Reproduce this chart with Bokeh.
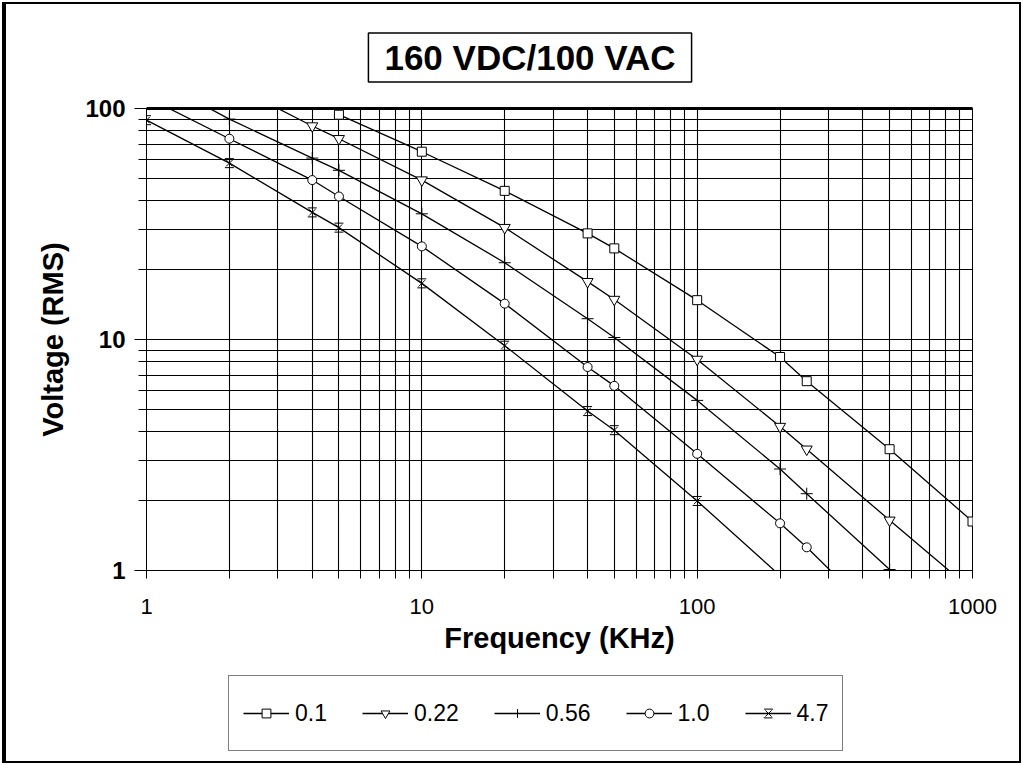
from bokeh.plotting import figure
from bokeh.layouts import column
from bokeh.models import (FixedTicker, BasicTickFormatter, Legend, LegendItem,
                          Label, LogAxis, InlineStyleSheet)
from bokeh.embed import file_html
from bokeh.resources import INLINE

# ---- data (frequency in KHz, voltage RMS) ----
f_01 = [5, 10, 20, 40, 50, 100, 200, 250, 500, 1000]
v_01 = [94, 65, 44, 28.8, 24.8, 14.8, 8.4, 6.6, 3.35, 1.63]

f_022 = [2, 4, 5, 10, 20, 40, 50, 100, 200, 250, 500, 1000]
v_022 = [128, 84, 74, 49, 30.5, 17.8, 14.9, 8.2, 4.2, 3.35, 1.65, 0.82]

f_056 = [1, 2, 4, 5, 10, 20, 40, 50, 100, 200, 250, 500]
v_056 = [140, 90, 61, 54, 35, 21.5, 12.3, 10.2, 5.45, 2.75, 2.15, 1.01]

f_10 = [1, 2, 4, 5, 10, 20, 40, 50, 100, 200, 250, 500]
v_10 = [112, 74, 49, 41.6, 25.3, 14.3, 7.6, 6.3, 3.2, 1.6, 1.26, 0.56]

f_47 = [1, 2, 4, 5, 10, 20, 40, 50, 100, 200]
v_47 = [89, 58, 35.5, 30.5, 17.5, 9.4, 4.9, 4.05, 2.0, 0.95]

series_labels = ["0.1", "0.22", "0.56", "1.0", "4.7"]
x_major = [1, 10, 100, 1000]
x_minor = [2, 3, 4, 5, 6, 7, 8, 9, 20, 30, 40, 50, 60, 70, 80, 90,
           200, 300, 400, 500, 600, 700, 800, 900]
y_major = [1, 10, 100]
y_minor = [2, 3, 4, 5, 6, 7, 8, 9, 20, 30, 40, 50, 60, 70, 80, 90]
title_text = "160 VDC/100 VAC"

FONT = "Liberation Sans"
LW = 1.3

frame_css = InlineStyleSheet(css="""
:host { position: relative; }
:host::after {
  content: "";
  position: absolute;
  left: 2px; top: 2px; right: 2px; bottom: 2px;
  border: 2px solid black;
  border-left-width: 4px;
  pointer-events: none;
  z-index: 1000;
}
""")

# ---------------- title strip ----------------
p0 = figure(width=1023, height=90, x_axis_type=None, y_axis_type=None,
            x_range=(0, 826), y_range=(0, 90), output_backend="svg",
            toolbar_location=None, min_border=0, title=None)
p0.outline_line_color = None
p0.background_fill_color = "white"
p0.border_fill_color = "white"
p0.xgrid.visible = False
p0.ygrid.visible = False
p0.add_layout(Label(x=383.5, y=33, text=title_text,
                    text_font=FONT, text_font_style="bold",
                    text_font_size="35px", text_color="black",
                    text_align="center", text_baseline="middle",
                    background_fill_color="white", background_fill_alpha=1,
                    border_line_color="black", border_line_width=1.5,
                    padding=(16, 16, 5, 5)))

# ---------------- main chart ----------------
p = figure(width=1023, height=580, x_axis_type="log", y_axis_type="log",
           x_range=(1, 1000), y_range=(1, 100), title=None,
           output_backend="svg", toolbar_location=None,
           min_border_left=146, min_border_right=51,
           min_border_top=18, min_border_bottom=100)
p.background_fill_color = "white"
p.border_fill_color = "white"
p.outline_line_color = "black"
p.outline_line_width = 1

p.xaxis.ticker = FixedTicker(ticks=x_major, minor_ticks=x_minor)
p.yaxis.ticker = FixedTicker(ticks=y_major, minor_ticks=y_minor)
p.xaxis.formatter = BasicTickFormatter()
p.yaxis.formatter = BasicTickFormatter()

for ax in (p.xaxis[0], p.yaxis[0]):
    ax.axis_line_color = "black"
    ax.axis_line_width = 1
    ax.major_tick_line_color = "black"
    ax.minor_tick_line_color = "black"
    ax.major_tick_in = 0
    ax.minor_tick_in = 0
    ax.axis_label_text_font = FONT
    ax.axis_label_text_font_style = "bold"
    ax.axis_label_text_font_size = "29px"
    ax.axis_label_text_color = "black"
    ax.major_label_text_color = "black"
    ax.major_label_text_font = FONT

p.xaxis.major_tick_out = 8
p.xaxis.minor_tick_out = 8
p.xaxis.major_label_text_font_size = "22px"
p.xaxis.major_label_standoff = 20
p.xaxis.axis_label = "Frequency (KHz)"
p.xaxis.axis_label_standoff = 5

p.yaxis.major_tick_out = 12
p.yaxis.minor_tick_out = 8
p.yaxis.major_label_text_font_size = "24px"
p.yaxis.major_label_text_font_style = "bold"
p.yaxis.major_label_standoff = 9
p.yaxis.axis_label = "Voltage (RMS)"
p.yaxis.axis_label_standoff = 13

# thick top border line at y=100
top_axis = LogAxis(ticker=FixedTicker(ticks=[]), axis_line_width=3,
                   axis_line_color="black", major_tick_line_color=None,
                   minor_tick_line_color=None, major_tick_out=0,
                   minor_tick_out=0, major_label_text_font_size="0px")
p.add_layout(top_axis, "above")

for g in (p.xgrid[0], p.ygrid[0]):
    g.grid_line_color = "black"
    g.grid_line_width = 1.1
    g.minor_grid_line_color = "black"
    g.minor_grid_line_width = 1.1


def draw_series(fig):
    out = []
    l1 = fig.line(f_01, v_01, line_color="black", line_width=LW)
    m1 = fig.scatter(f_01, v_01, marker="square", size=9, line_color="black",
                     fill_color="white", line_width=1)
    out.append([l1, m1])
    l2 = fig.line(f_022, v_022, line_color="black", line_width=LW)
    m2 = fig.scatter(f_022, v_022, marker="inverted_triangle", size=11,
                     line_color="black", fill_color="white", line_width=1)
    out.append([l2, m2])
    l3 = fig.line(f_056, v_056, line_color="black", line_width=LW)
    m3 = fig.scatter(f_056, v_056, marker="cross", size=12,
                     line_color="black", line_width=1)
    out.append([l3, m3])
    l4 = fig.line(f_10, v_10, line_color="black", line_width=LW)
    m4 = fig.scatter(f_10, v_10, marker="circle", size=9, line_color="black",
                     fill_color="white", line_width=1)
    out.append([l4, m4])
    l5 = fig.line(f_47, v_47, line_color="black", line_width=LW)
    m5a = fig.scatter(f_47, v_47, marker="x", size=9, line_color="black",
                      line_width=1)
    m5b = fig.scatter(f_47, v_47, marker="square", size=9, line_color="black",
                      fill_color=None, line_width=1, line_dash="9 9")
    out.append([l5, m5a, m5b])
    return out


draw_series(p)

# ---------------- legend strip ----------------
p2 = figure(width=1023, height=95, x_axis_type=None, y_axis_type=None,
            x_range=(0, 1), y_range=(0, 1), output_backend="svg",
            toolbar_location=None, min_border=0, title=None)
p2.outline_line_color = None
p2.background_fill_color = "white"
p2.border_fill_color = "white"
p2.xgrid.visible = False
p2.ygrid.visible = False
groups = draw_series(p2)   # off-range copies: only their legend glyphs show

legend = Legend(items=[LegendItem(label=lab, renderers=r)
                       for lab, r in zip(series_labels, groups)],
                location=(82, 14), orientation="horizontal")
legend.glyph_width = 46
legend.glyph_height = 22
legend.label_standoff = 6
legend.spacing = 35
legend.padding = 14
legend.label_height = 46
legend.margin = 0
legend.label_text_font = FONT
legend.label_text_font_size = "23px"
legend.label_text_color = "black"
legend.border_line_color = "black"
legend.border_line_width = 1.3
legend.background_fill_color = "white"
legend.background_fill_alpha = 1
legend.inactive_fill_alpha = 0
p2.add_layout(legend, "center")

layout = column(p0, p, p2, spacing=0, stylesheets=[frame_css])

open("out.html", "w").write(file_html(layout, INLINE))
